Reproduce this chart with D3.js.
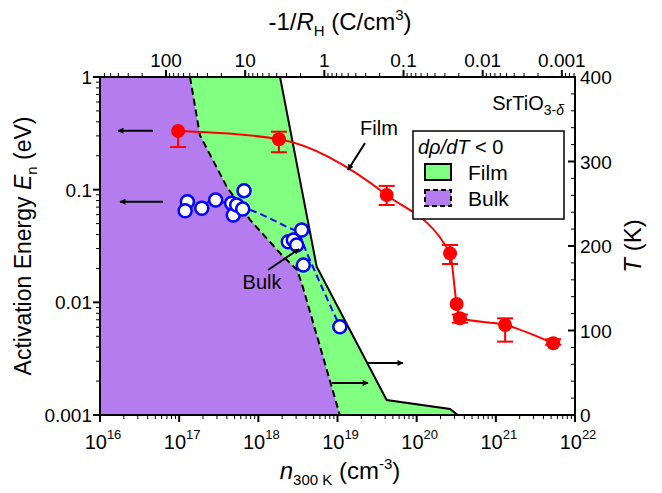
<!DOCTYPE html>
<html>
<head>
<meta charset="utf-8">
<script src="https://cdn.jsdelivr.net/npm/d3@7"></script>
<style>
  body { margin: 0; background: #fff; }
  svg { display: block; }
  text { font-family: "Liberation Sans", Arial, sans-serif; fill: #000; }
</style>
</head>
<body>
<div id="chart"></div>
<script>
// Film: activation energy (left axis) vs carrier density
const filmN = [9.7e16, 1.82e18, 4.18e19, 2.64e20, 3.2e20, 3.52e20, 1.31e21, 5.3e21];
const filmE = [0.332, 0.28, 0.0897, 0.0272, 0.00966, 0.00722, 0.0063, 0.00433];
const filmErrLo = [0.239, 0.215, 0.0731, 0.0219, null, 0.0066, 0.00448, 0.0042];
const filmErrHi = [null, 0.327, 0.108, 0.0323, null, 0.0078, 0.00721, 0.0047];

// Bulk: open circles
const bulkN = [1.27e17, 1.19e17, 1.93e17, 2.89e17, 4.6e17, 4.83e17, 5.33e17, 6.6e17, 6.35e17,
               2.39e18, 2.77e18, 3.05e18, 3.53e18, 3.7e18, 1.07e19];
const bulkE = [0.0782, 0.065, 0.0684, 0.0809, 0.0757, 0.0596, 0.0731, 0.098, 0.0674,
               0.0345, 0.0357, 0.0323, 0.0439, 0.0214, 0.00608];
// dashed guide through the bulk points
const bulkLineN = [1.2e17, 2.9e17, 7.9e17, 2.3e18, 3.2e18, 4.1e18, 1.07e19];
const bulkLineE = [0.072, 0.078, 0.066, 0.0466, 0.0412, 0.0274, 0.0061];

// dρ/dT < 0 boundaries (right axis, T in K)
const filmBoundN = [1.88e18, 5.46e18, 4.18e19, 2.64e20, 3.3e20, 1e22];
const filmBoundT = [400, 175.5, 17.75, 7.1, 0, 0];
const bulkBoundN = [1.37e17, 1.83e17, 4.0e17, 7.86e17, 1.99e18, 3.08e18, 3.66e18, 1.07e19];
const bulkBoundT = [400, 331, 270, 231, 189, 172, 151, 0];

// tick labels
const bottomExp = [16, 17, 18, 19, 20, 21, 22];
const topTicks = [100, 10, 1, 0.1, 0.01, 0.001];
const leftTicks = [1, 0.1, 0.01, 0.001];
const rightTicks = [0, 100, 200, 300, 400];

window.addEventListener('DOMContentLoaded', function() {
  const W = 662, H = 493;
  const L = 100, R = 575, T = 77, B = 415;
  const FS = 19, TFS = 24;

  const svg = d3.select('#chart').append('svg')
    .attr('width', W).attr('height', H);

  const x = d3.scaleLog().domain([1e16, 1e22]).range([L, R]);
  const xTop = d3.scaleLog().domain([681.9, 6.82e-4]).range([L, R]);
  const yE = d3.scaleLog().domain([0.001, 1]).range([B, T]);
  const yT = d3.scaleLinear().domain([0, 400]).range([B, T]);

  svg.append('defs').append('marker')
    .attr('id', 'arr').attr('viewBox', '0 0 10 10')
    .attr('refX', 9).attr('refY', 5)
    .attr('markerWidth', 9).attr('markerHeight', 6)
    .attr('markerUnits', 'userSpaceOnUse')
    .attr('orient', 'auto')
    .append('path').attr('d', 'M0,0L10,5L0,10z').attr('fill', '#000');

  // regions
  const regionLine = d3.line().x(d => x(d[0])).y(d => yT(d[1]));
  const filmPoly = filmBoundN.map((n, i) => [n, filmBoundT[i]]);
  const bulkPoly = bulkBoundN.map((n, i) => [n, bulkBoundT[i]]);

  svg.append('path')
    .attr('d', regionLine(filmPoly.concat([[1e16, 0], [1e16, 400]])) + 'Z')
    .attr('fill', '#80ff80');
  svg.append('path')
    .attr('d', regionLine(bulkPoly.concat([[1e16, 0], [1e16, 400]])) + 'Z')
    .attr('fill', '#b57cf0');

  svg.append('path').attr('d', regionLine(filmPoly))
    .attr('fill', 'none').attr('stroke', '#000').attr('stroke-width', 2);
  svg.append('path').attr('d', regionLine(bulkPoly))
    .attr('fill', 'none').attr('stroke', '#000').attr('stroke-width', 2)
    .attr('stroke-dasharray', '7,4');

  // bulk dashed curve + circles
  const eLine = d3.line().x(d => x(d[0])).y(d => yE(d[1])).curve(d3.curveMonotoneX);
  svg.append('path')
    .attr('d', eLine(bulkLineN.map((n, i) => [n, bulkLineE[i]])))
    .attr('fill', 'none').attr('stroke', '#0000ff').attr('stroke-width', 2)
    .attr('stroke-dasharray', '7,4');
  svg.append('g').selectAll('circle')
    .data(bulkN.map((n, i) => [n, bulkE[i]]))
    .join('circle')
    .attr('cx', d => x(d[0])).attr('cy', d => yE(d[1])).attr('r', 6.5)
    .attr('fill', '#fff').attr('stroke', '#0000ff').attr('stroke-width', 2.5);

  // film red curve
  const filmPts = filmN.map((n, i) => [n, filmE[i]]);
  svg.append('path')
    .attr('d', eLine(filmPts))
    .attr('fill', 'none').attr('stroke', '#ff0000').attr('stroke-width', 2);

  const err = svg.append('g').attr('stroke', '#ff0000').attr('stroke-width', 2);
  filmN.forEach((n, i) => {
    const cx = x(n);
    [filmErrLo[i], filmErrHi[i]].forEach(v => {
      if (v == null) return;
      err.append('line').attr('x1', cx).attr('x2', cx)
        .attr('y1', yE(filmE[i])).attr('y2', yE(v));
      err.append('line').attr('x1', cx - 8).attr('x2', cx + 8)
        .attr('y1', yE(v)).attr('y2', yE(v));
    });
  });
  svg.append('g').selectAll('circle')
    .data(filmPts).join('circle')
    .attr('cx', d => x(d[0])).attr('cy', d => yE(d[1])).attr('r', 7)
    .attr('fill', '#ff0000');

  // arrows
  function arrow(x1, y1, x2, y2) {
    svg.append('line').attr('x1', x1).attr('y1', y1).attr('x2', x2).attr('y2', y2)
      .attr('stroke', '#000').attr('stroke-width', 2).attr('marker-end', 'url(#arr)');
  }
  arrow(x(4.67e16), yE(0.334), x(1.69e16), yE(0.334));
  arrow(x(6.26e16), yE(0.0782), x(1.79e16), yE(0.0782));
  arrow(x(2.43e19), yT(61.5), x(6.7e19), yT(61.5));
  arrow(x(8.5e18), yT(37.9), x(2.43e19), yT(37.9));
  arrow(365, 143, 348, 170);
  arrow(268, 270, 299, 249);

  svg.append('text').attr('x', 379).attr('y', 135).attr('text-anchor', 'middle')
    .attr('font-size', 20).text('Film');
  svg.append('text').attr('x', 262).attr('y', 289).attr('text-anchor', 'middle')
    .attr('font-size', 20).text('Bulk');

  // SrTiO3-δ label
  const st = svg.append('text').attr('x', 564).attr('y', 110).attr('text-anchor', 'end')
    .attr('font-size', 20);
  st.append('tspan').text('SrTiO');
  st.append('tspan').attr('dy', 5).attr('font-size', 14).text('3-');
  st.append('tspan').attr('font-size', 14).attr('font-style', 'italic').text('δ');

  // legend
  const lg = svg.append('g');
  lg.append('rect').attr('x', 413).attr('y', 131).attr('width', 151).attr('height', 88)
    .attr('fill', '#fff').attr('stroke', '#000').attr('stroke-width', 1.5);
  const lt = lg.append('text').attr('x', 418).attr('y', 154).attr('font-size', 20);
  lt.append('tspan').attr('font-style', 'italic').text('dρ/dT');
  lt.append('tspan').text(' < 0');
  lg.append('rect').attr('x', 425).attr('y', 164).attr('width', 26).attr('height', 16)
    .attr('fill', '#80ff80').attr('stroke', '#000').attr('stroke-width', 2);
  lg.append('rect').attr('x', 425).attr('y', 190).attr('width', 26).attr('height', 16)
    .attr('fill', '#b57cf0').attr('stroke', '#000').attr('stroke-width', 2)
    .attr('stroke-dasharray', '5,3');
  lg.append('text').attr('x', 468).attr('y', 180).attr('font-size', 21).text('Film');
  lg.append('text').attr('x', 468).attr('y', 206).attr('font-size', 21).text('Bulk');

  // axes
  function logMinors(lo, hi) {
    const out = [];
    for (let e = lo; e < hi; e++) for (let k = 2; k <= 9; k++) out.push(k * Math.pow(10, e));
    return out;
  }
  const ax = svg.append('g').attr('stroke', '#000');
  logMinors(16, 22).forEach(v => ax.append('line').attr('x1', x(v)).attr('x2', x(v)).attr('y1', B).attr('y2', B + 4));
  bottomExp.forEach(e => ax.append('line').attr('x1', x(Math.pow(10, e))).attr('x2', x(Math.pow(10, e)))
    .attr('y1', B).attr('y2', B + 7).attr('stroke-width', 2));
  logMinors(-4, 3).filter(v => v < 681.9 && v > 6.82e-4)
    .forEach(v => ax.append('line').attr('x1', xTop(v)).attr('x2', xTop(v)).attr('y1', T).attr('y2', T - 4));
  topTicks.forEach(v => ax.append('line').attr('x1', xTop(v)).attr('x2', xTop(v))
    .attr('y1', T).attr('y2', T - 7).attr('stroke-width', 2));
  logMinors(-3, 0).forEach(v => ax.append('line').attr('x1', L).attr('x2', L - 4).attr('y1', yE(v)).attr('y2', yE(v)));
  leftTicks.forEach(v => ax.append('line').attr('x1', L).attr('x2', L - 7)
    .attr('y1', yE(v)).attr('y2', yE(v)).attr('stroke-width', 2));
  d3.range(0, 401, 20).forEach(v => ax.append('line').attr('x1', R).attr('x2', R - (v % 100 ? 4 : 7))
    .attr('y1', yT(v)).attr('y2', yT(v)).attr('stroke-width', v % 100 ? 1 : 2));
  svg.append('rect').attr('x', L).attr('y', T).attr('width', R - L).attr('height', B - T)
    .attr('fill', 'none').attr('stroke', '#000').attr('stroke-width', 2);

  // tick labels
  bottomExp.forEach(e => {
    const t = svg.append('text').attr('x', x(Math.pow(10, e)) + 3).attr('y', 449)
      .attr('text-anchor', 'middle').attr('font-size', FS + 1);
    t.append('tspan').text('10');
    t.append('tspan').attr('dy', -10).attr('font-size', 13).text(e);
  });
  topTicks.forEach(v => svg.append('text').attr('x', xTop(v)).attr('y', 67)
    .attr('text-anchor', 'middle').attr('font-size', FS).text(v));
  leftTicks.forEach(v => svg.append('text').attr('x', L - 8).attr('y', yE(v) + 7)
    .attr('text-anchor', 'end').attr('font-size', FS).text(v));
  rightTicks.forEach(v => svg.append('text').attr('x', R + 5).attr('y', yT(v) + 7)
    .attr('font-size', FS).text(v));

  // axis titles
  const tt = svg.append('text').attr('x', 340).attr('y', 30).attr('text-anchor', 'middle').attr('font-size', TFS);
  tt.append('tspan').text('-1/');
  tt.append('tspan').attr('font-style', 'italic').text('R');
  tt.append('tspan').attr('dy', 6).attr('font-size', 15).text('H');
  tt.append('tspan').attr('dy', -6).text(' (C/cm');
  tt.append('tspan').attr('dy', -10).attr('font-size', 15).text('3');
  tt.append('tspan').attr('dy', 10).text(')');

  const bt = svg.append('text').attr('x', 340).attr('y', 479).attr('text-anchor', 'middle').attr('font-size', TFS);
  bt.append('tspan').attr('font-style', 'italic').text('n');
  bt.append('tspan').attr('dy', 6).attr('font-size', 15).text('300 K');
  bt.append('tspan').attr('dy', -6).text(' (cm');
  bt.append('tspan').attr('dy', -10).attr('font-size', 15).text('-3');
  bt.append('tspan').attr('dy', 10).text(')');

  const lt2 = svg.append('text').attr('transform', 'translate(31,246) rotate(-90)')
    .attr('text-anchor', 'middle').attr('font-size', 23);
  lt2.append('tspan').text('Activation Energy ');
  lt2.append('tspan').attr('font-style', 'italic').text('E');
  lt2.append('tspan').attr('dy', 6).attr('font-size', 15).text('n');
  lt2.append('tspan').attr('dy', -6).text(' (eV)');

  const rt = svg.append('text').attr('transform', 'translate(641,246) rotate(-90)')
    .attr('text-anchor', 'middle').attr('font-size', TFS);
  rt.append('tspan').attr('font-style', 'italic').text('T');
  rt.append('tspan').text(' (K)');
});
</script>
</body>
</html>
